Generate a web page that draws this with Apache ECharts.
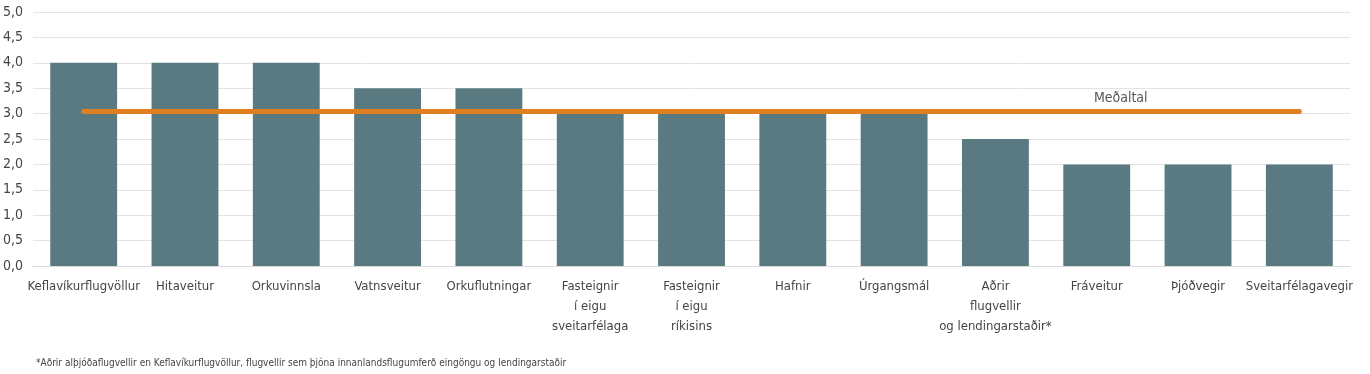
<!DOCTYPE html>
<html><head><meta charset="utf-8">
<script src="https://cdn.jsdelivr.net/npm/echarts@6/dist/echarts.min.js"></script>
<style>html,body{margin:0;padding:0;background:#fff}#c{width:1370px;height:374px}</style>
</head><body><div id="c"></div>
<script>
var categories = ["Keflavíkurflugvöllur","Hitaveitur","Orkuvinnsla","Vatnsveitur","Orkuflutningar","Fasteignir\ní eigu\nsveitarfélaga","Fasteignir\ní eigu\nríkisins","Hafnir","Úrgangsmál","Aðrir\nflugvellir\nog lendingarstaðir*","Fráveitur","Þjóðvegir","Sveitarfélagavegir"];
var scores = [4.0,4.0,4.0,3.5,3.5,3.0,3.0,3.0,3.0,2.5,2.0,2.0,2.0];
var average = [3.04,3.04,3.04,3.04,3.04,3.04,3.04,3.04,3.04,3.04,3.04,3.04,3.04];
var avgLabel = "Meðaltal";
var avgLabelIndex = 10;
var footnote = "*Aðrir alþjóðaflugvellir en Keflavíkurflugvöllur, flugvellir sem þjóna innanlandsflugumferð eingöngu og lendingarstaðir";
var FONT = "'Liberation Sans Narrow','DejaVu Sans Condensed','Roboto',sans-serif";

var chart = echarts.init(document.getElementById('c'), null, {renderer:'canvas'});
chart.setOption({
  animation:false,
  textStyle:{fontFamily:FONT},
  grid:{left:32,right:20,top:12,bottom:108},
  graphic:[{type:'text',left:36,top:358,style:{text:footnote,font:"10px "+FONT,fill:'#444'}}],
  xAxis:{type:'category',data:categories,
    axisLine:{lineStyle:{color:'#d9d9d9'}},axisTick:{show:false},
    axisLabel:{interval:0,color:'#444',fontSize:13,lineHeight:20,margin:11,fontFamily:FONT}},
  yAxis:{type:'value',min:0,max:5,interval:0.5,
    axisLabel:{color:'#444',fontSize:14,margin:10,fontFamily:FONT,
      formatter:function(v){return v.toFixed(1).replace('.',',');}},
    splitLine:{lineStyle:{color:'#e3e3e3'}},axisLine:{show:false}},
  series:[
    {type:'bar',data:scores,barWidth:'66%',itemStyle:{color:'#587a80'}},
    {type:'line',data:average,
      symbol:'none',
      lineStyle:{color:'#e07f1f',width:5,cap:'round'},z:5,
      markPoint:{symbol:'circle',symbolSize:1,itemStyle:{color:'#e07f1f'},
        label:{show:true,position:'top',distance:6,offset:[24,0],formatter:avgLabel,color:'#555',fontSize:14,fontFamily:FONT},
        data:[{coord:[avgLabelIndex, average[avgLabelIndex]]}]}}
  ]
});
</script></body></html>
